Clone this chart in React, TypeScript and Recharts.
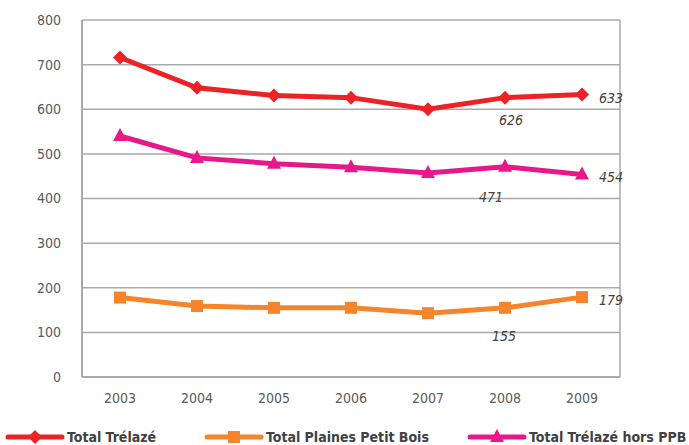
import { LineChart, Line, XAxis, YAxis, CartesianGrid, LabelList } from 'recharts'

const YEARS = ['2003', '2004', '2005', '2006', '2007', '2008', '2009']
const TOTAL_TRELAZE = [716, 648, 631, 626, 600, 626, 633]
const PLAINES_PETIT_BOIS = [178, 159, 155, 155, 143, 155, 179]
const TRELAZE_HORS_PPB = [540, 491, 478, 470, 457, 471, 454]
const Y_TICKS = [0, 100, 200, 300, 400, 500, 600, 700, 800]

const RED = '#ed2227'
const ORANGE = '#f5842a'
const MAGENTA = '#e8178a'
const GRID = '#a7a9ac'
const TEXT = '#58595b'
const FONT = "'DejaVu Sans Condensed', 'Liberation Sans Narrow', sans-serif"

type Shape = 'diamond' | 'square' | 'triangle'

const data = YEARS.map((year, i) => ({
  year,
  total: TOTAL_TRELAZE[i],
  ppb: PLAINES_PETIT_BOIS[i],
  hors: TRELAZE_HORS_PPB[i],
}))

function marker(shape: Shape, cx: number, cy: number, color: string) {
  if (shape === 'diamond') {
    return <polygon points={`${cx},${cy - 7} ${cx + 7},${cy} ${cx},${cy + 7} ${cx - 7},${cy}`} fill={color} />
  }
  if (shape === 'square') {
    return <rect x={cx - 6} y={cy - 6} width={12} height={12} fill={color} />
  }
  return <polygon points={`${cx},${cy - 8} ${cx + 7},${cy + 5} ${cx - 7},${cy + 5}`} fill={color} />
}

function makeDot(shape: Shape, color: string) {
  // eslint-disable-next-line @typescript-eslint/no-explicit-any
  return (props: any) => {
    const { cx, cy, index } = props
    if (cx == null || cy == null) return <g key={index} />
    return <g key={index}>{marker(shape, cx, cy, color)}</g>
  }
}

// only the last two points carry a value label
function makeLabel(below: [number, number]) {
  // eslint-disable-next-line @typescript-eslint/no-explicit-any
  return (props: any) => {
    const { x, y, value, index } = props
    if (index === 5) {
      return (
        <text x={x + below[0]} y={y + below[1]} textAnchor="middle" dominantBaseline="central"
          fontFamily={FONT} fontStyle="italic" fontSize={14} fill="#414042">
          {value}
        </text>
      )
    }
    if (index === 6) {
      return (
        <text x={x + 17} y={y + 3} textAnchor="start" dominantBaseline="central"
          fontFamily={FONT} fontStyle="italic" fontSize={14} fill="#414042">
          {value}
        </text>
      )
    }
    return null
  }
}

const LEGEND: { name: string; color: string; shape: Shape; left: number }[] = [
  { name: 'Total Trélazé', color: RED, shape: 'diamond', left: 5 },
  { name: 'Total Plaines Petit Bois', color: ORANGE, shape: 'square', left: 204 },
  { name: 'Total Trélazé hors PPB', color: MAGENTA, shape: 'triangle', left: 467 },
]

export default function App() {
  return (
    <div style={{ position: 'absolute', left: 0, top: 0, width: 689, height: 445, background: '#fff', overflow: 'hidden' }}>
      <LineChart width={689} height={445} data={data} margin={{ top: 20, right: 69, left: 0, bottom: 38 }}>
        <CartesianGrid vertical horizontal stroke={GRID} strokeWidth={1.5}
          verticalPoints={[82, 620]} />
        <XAxis dataKey="year" padding={{ left: 38, right: 38 }} height={30}
          axisLine={{ stroke: GRID, strokeWidth: 2 }} tickLine={false}
          tick={{ fill: TEXT, fontSize: 14, fontFamily: FONT }} tickMargin={10} />
        <YAxis domain={[0, 800]} ticks={Y_TICKS} width={82} interval={0}
          axisLine={{ stroke: GRID, strokeWidth: 2 }} tickLine={false}
          tick={{ fill: TEXT, fontSize: 14, fontFamily: FONT }} tickMargin={15} />
        <Line dataKey="total" stroke={RED} strokeWidth={5} dot={makeDot('diamond', RED)}
          activeDot={false} isAnimationActive={false}>
          <LabelList dataKey="total" content={makeLabel([6, 22])} />
        </Line>
        <Line dataKey="ppb" stroke={ORANGE} strokeWidth={5} dot={makeDot('square', ORANGE)}
          activeDot={false} isAnimationActive={false}>
          <LabelList dataKey="ppb" content={makeLabel([-1, 28])} />
        </Line>
        <Line dataKey="hors" stroke={MAGENTA} strokeWidth={5} dot={makeDot('triangle', MAGENTA)}
          activeDot={false} isAnimationActive={false}>
          <LabelList dataKey="hors" content={makeLabel([-14, 30])} />
        </Line>
      </LineChart>
      {LEGEND.map((item) => (
        <div key={item.name} style={{ position: 'absolute', left: item.left, top: 428, display: 'flex', alignItems: 'center' }}>
          <svg width={60} height={18}>
            <line x1={3} y1={9} x2={57} y2={9} stroke={item.color} strokeWidth={5} strokeLinecap="round" />
            {marker(item.shape, 30, 9, item.color)}
          </svg>
          <span style={{ fontFamily: FONT, fontWeight: 'bold', fontSize: 14, color: '#414042', marginLeft: 2, whiteSpace: 'nowrap' }}>
            {item.name}
          </span>
        </div>
      ))}
    </div>
  )
}
